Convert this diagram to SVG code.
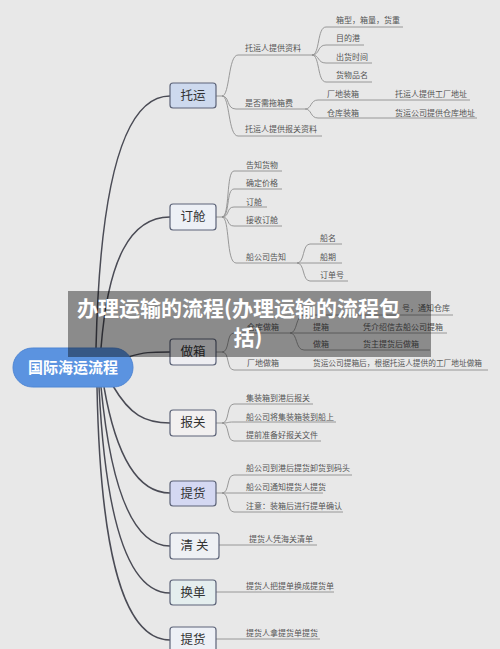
<svg xmlns="http://www.w3.org/2000/svg" width="500" height="649" viewBox="0 0 500 649">
<style>
.bg{fill:#e8e8e8}
.main{fill:none;stroke:#4a4b55;stroke-width:1.5}
.br{fill:none;stroke:#8e8e8e;stroke-width:0.9}
.n rect{stroke:#5c6378;stroke-width:1.2}
.n text{font-family:"Noto Sans CJK SC","Noto Sans",sans-serif;font-size:12.5px;fill:#333;text-anchor:middle}
.t{font-family:"Noto Sans CJK SC","Noto Sans",sans-serif;font-size:8px;fill:#555}
.root text{font-family:"Noto Sans CJK SC","Noto Sans",sans-serif;font-size:15px;font-weight:bold;fill:#fff;text-anchor:middle}
.title{font-family:"Noto Sans CJK SC","Noto Sans",sans-serif;font-size:21px;font-weight:bold;fill:#fff}
</style>
<rect class="bg" x="0" y="0" width="500" height="649"/>

<g id="connectors">
  <path class="main" d="M96 348 C100 180,125 96,170 96"/>
  <path class="main" d="M101 348 C108 260,130 217,170 217"/>
  <path class="main" d="M128 357 C145 352,150 352,170 352"/>
  <path class="main" d="M113 386 C130 415,145 423,170 423"/>
  <path class="main" d="M104 387 C115 450,135 493,170 493"/>
  <path class="main" d="M101 387 C110 480,130 546,170 546"/>
  <path class="main" d="M99 387 C105 510,125 593,170 593"/>
  <path class="main" d="M97 387 C100 540,120 640,170 640"/>

  <path class="br" d="M216 96 H222 C230 96,228 55,238 55 H312"/>
  <path class="br" d="M222 96 C230 96,226 109,236 109 H305"/>
  <path class="br" d="M222 96 C230 96,228 136,238 136 H322"/>
  <path class="br" d="M312 55 C320 55,317 27,326 27 H403"/>
  <path class="br" d="M312 55 C320 55,317 45,326 45 H364"/>
  <path class="br" d="M312 55 C320 55,317 63,326 63 H372"/>
  <path class="br" d="M312 55 C320 55,317 82,326 82 H372"/>
  <path class="br" d="M305 109 C312 109,310 100,318 100 H470"/>
  <path class="br" d="M305 109 C312 109,310 118,318 118 H477"/>

  <path class="br" d="M216 217 H222 C230 217,226 171,234 171 H282"/>
  <path class="br" d="M222 217 C230 217,226 189,234 189 H282"/>
  <path class="br" d="M222 217 C230 217,226 207,234 207 H267"/>
  <path class="br" d="M222 217 C230 217,226 226,234 226 H282"/>
  <path class="br" d="M222 217 C230 217,226 263,236 263 H342"/>
  <path class="br" d="M297 263 C305 263,302 244,310 244 H342"/>
  <path class="br" d="M297 263 C305 263,302 281,310 281 H348"/>

  <path class="br" d="M216 352 H222 C230 352,226 333,234 333 H447"/>
  <path class="br" d="M222 352 C230 352,226 370,234 370 H488"/>
  <path class="br" d="M290 333 C298 333,295 315,304 315 H453"/>
  <path class="br" d="M290 333 C298 333,295 350,304 350 H430"/>

  <path class="br" d="M216 423 H222 C230 423,226 404,234 404 H313"/>
  <path class="br" d="M222 423 C230 423,226 422,234 422 H336"/>
  <path class="br" d="M222 423 C230 423,226 441,234 441 H321"/>

  <path class="br" d="M216 493 H222 C230 493,226 475,234 475 H352"/>
  <path class="br" d="M222 493 H323"/>
  <path class="br" d="M222 493 C230 493,226 512,234 512 H343"/>

  <path class="br" d="M219 545 H317"/>
  <path class="br" d="M216 592 H334"/>
  <path class="br" d="M216 639 H320"/>
</g>

<g id="root" class="root">
  <rect x="13" y="348" width="120" height="39" rx="19.5" fill="#5b93e0" stroke="#4f86d4" stroke-width="1"/>
  <text x="73" y="373">国际海运流程</text>
</g>

<g id="n-tuoyun" class="n"><rect x="170" y="83" width="46" height="25" rx="3" fill="#cdd9ee"/><text x="193" y="100">托运</text></g>
<g id="n-dingcang" class="n"><rect x="170" y="204" width="46" height="26" rx="3" fill="#edf0f6"/><text x="193" y="221">订舱</text></g>
<g id="n-zuoxiang" class="n"><rect x="170" y="339" width="46" height="26" rx="3" fill="#eeeef2"/><text x="193" y="356">做箱</text></g>
<g id="n-baoguan" class="n"><rect x="170" y="410" width="46" height="26" rx="3" fill="#f2f0f0"/><text x="193" y="427">报关</text></g>
<g id="n-tihuo" class="n"><rect x="170" y="481" width="46" height="25" rx="3" fill="#d4d8f2"/><text x="193" y="498">提货</text></g>
<g id="n-qingguan" class="n"><rect x="170" y="533" width="49" height="26" rx="3" fill="#eef0f4"/><text x="194.5" y="550">清 关</text></g>
<g id="n-huandan" class="n"><rect x="170" y="580" width="46" height="25" rx="3" fill="#e4eeee"/><text x="193" y="597">换单</text></g>
<g id="n-tihuo2" class="n"><rect x="170" y="627" width="46" height="26" rx="3" fill="#edf0f6"/><text x="193" y="644">提货</text></g>

<g id="labels">
  <text class="t" x="245" y="51">托运人提供资料</text>
  <text class="t" x="245" y="106">是否需拖箱费</text>
  <text class="t" x="245" y="132">托运人提供报关资料</text>
  <text class="t" x="336" y="23">箱型，箱量，货重</text>
  <text class="t" x="336" y="41">目的港</text>
  <text class="t" x="336" y="60">出货时间</text>
  <text class="t" x="336" y="78">货物品名</text>
  <text class="t" x="327" y="97">厂地装箱</text>
  <text class="t" x="395" y="97">托运人提供工厂地址</text>
  <text class="t" x="327" y="116">仓库装箱</text>
  <text class="t" x="395" y="116">货运公司提供仓库地址</text>

  <text class="t" x="246" y="168">告知货物</text>
  <text class="t" x="246" y="186">确定价格</text>
  <text class="t" x="246" y="205">订舱</text>
  <text class="t" x="246" y="223">接收订舱</text>
  <text class="t" x="246" y="260">船公司告知</text>
  <text class="t" x="320" y="241">船名</text>
  <text class="t" x="320" y="260">船期</text>
  <text class="t" x="320" y="278">订单号</text>

  <text class="t" x="247" y="330">仓库做箱</text>
  <text class="t" x="402" y="311">号，通知仓库</text>
  <text class="t" x="313" y="330">提箱</text>
  <text class="t" x="363" y="330">凭介绍信去船公司提箱</text>
  <text class="t" x="313" y="347">做箱</text>
  <text class="t" x="363" y="347">货主提货后做箱</text>
  <text class="t" x="247" y="366">厂地做箱</text>
  <text class="t" x="313" y="366" textLength="169" lengthAdjust="spacingAndGlyphs">货运公司提箱后，根据托运人提供的工厂地址做箱</text>

  <text class="t" x="246" y="401">集装箱到港后报关</text>
  <text class="t" x="246" y="420">船公司将集装箱装到船上</text>
  <text class="t" x="246" y="438">提前准备好报关文件</text>

  <text class="t" x="246" y="471">船公司到港后提货卸货到码头</text>
  <text class="t" x="246" y="490">船公司通知提货人提货</text>
  <text class="t" x="246" y="509">注意：装箱后进行提单确认</text>

  <text class="t" x="249" y="542">提货人凭海关清单</text>
  <text class="t" x="246" y="589">提货人把提单换成提货单</text>
  <text class="t" x="246" y="636">提货人拿提货单提货</text>
</g>

<g id="overlay">
  <rect x="68" y="291" width="363" height="66" fill="#000" fill-opacity="0.4"/>
  <text class="title" x="77" y="316">办理运输的流程(办理运输的流程包</text>
  <text class="title" x="248" y="345" text-anchor="middle">括)</text>
</g>
</svg>
